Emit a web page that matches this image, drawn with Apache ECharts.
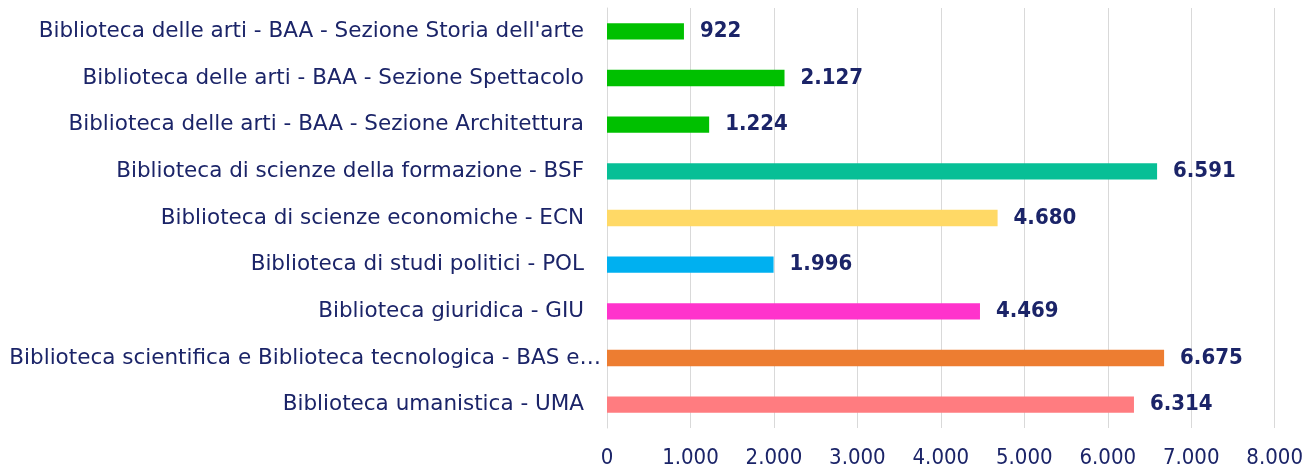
<!DOCTYPE html>
<html>
<head>
<meta charset="utf-8">
<script src="https://cdn.jsdelivr.net/npm/echarts@6/dist/echarts.min.js"></script>
<style>html,body{margin:0;padding:0;background:#fff}#c{width:1306px;height:470px}</style>
</head>
<body>
<div id="c"></div>
<script>
const categories = [
  "Biblioteca delle arti - BAA - Sezione Storia dell'arte",
  "Biblioteca delle arti - BAA - Sezione Spettacolo",
  "Biblioteca delle arti - BAA - Sezione Architettura",
  "Biblioteca di scienze della formazione - BSF",
  "Biblioteca di scienze economiche - ECN",
  "Biblioteca di studi politici - POL",
  "Biblioteca giuridica - GIU",
  "Biblioteca scientifica e Biblioteca tecnologica - BAS e…",
  "Biblioteca umanistica - UMA"
];
const values = [922, 2127, 1224, 6591, 4680, 1996, 4469, 6675, 6314];
const colors = ["#00C000", "#00C000", "#00C000", "#07BF96", "#FFD966", "#00B0F0", "#FF33CC", "#ED7D31", "#FF7C80"];
const xTicks = { min: 0, max: 8000, interval: 1000 };

const navy = "#1B2468";
const font = "'DejaVu Sans Condensed', 'DejaVu Sans', sans-serif";
const catFont = "'DejaVu Sans', sans-serif";
const fmt = v => String(v).replace(/\B(?=(\d{3})+(?!\d))/g, ".");

const chart = echarts.init(document.getElementById('c'), null, { renderer: 'canvas' });
chart.setOption({
  animation: false,
  grid: { left: 607, right: 31, top: 8, bottom: 42, containLabel: false },
  xAxis: {
    type: 'value', min: xTicks.min, max: xTicks.max, interval: xTicks.interval,
    axisLine: { show: false }, axisTick: { show: false },
    splitLine: { show: true, lineStyle: { color: '#D9D9D9', width: 1 } },
    axisLabel: { color: navy, fontFamily: font, fontSize: 22, margin: 19, formatter: fmt }
  },
  yAxis: {
    type: 'category', inverse: true,
    data: categories.map((c, i) => i === 7
      ? { value: c, textStyle: { padding: [0, 0, 0, 0] } }
      : { value: c, textStyle: { padding: [0, 17, 0, 0] } }),
    axisLine: { show: true, lineStyle: { color: '#D9D9D9' } },
    axisTick: { show: false },
    axisLabel: { color: navy, fontFamily: catFont, fontSize: 21.5, margin: 6 }
  },
  series: [{
    type: 'bar',
    data: values.map((v, i) => ({ value: v, itemStyle: { color: colors[i] } })),
    barCategoryGap: '65%',
    label: {
      show: true, position: 'right', distance: 16,
      color: navy, fontFamily: font, fontSize: 22, fontWeight: 'bold',
      formatter: p => fmt(p.value)
    }
  }]
});
</script>
</body>
</html>
